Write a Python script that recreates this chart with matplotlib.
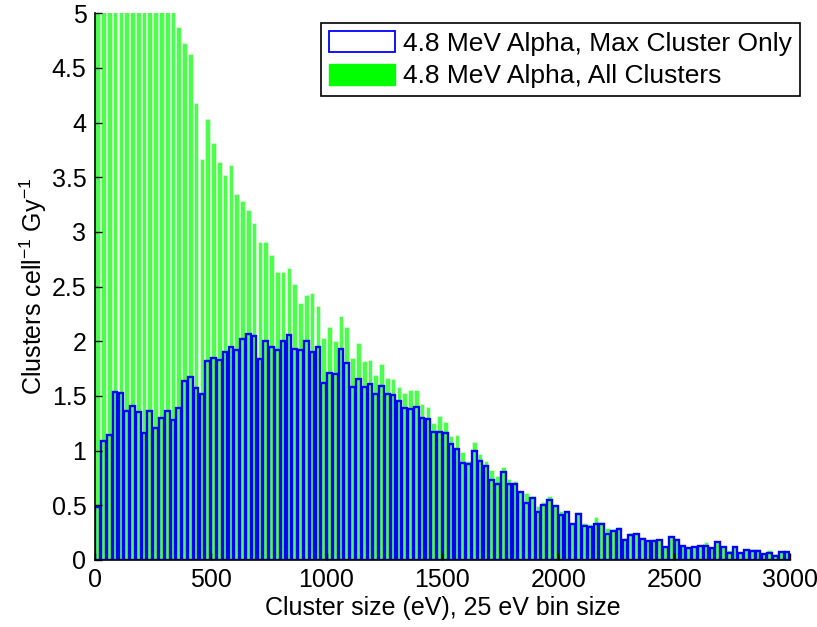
import numpy as np
import matplotlib.pyplot as plt
from matplotlib.patches import Patch
from matplotlib.ticker import FuncFormatter

plt.rcParams['font.family'] = ['Liberation Sans', 'DejaVu Sans']

# 25 eV bins from 0 to 3000 eV
bin_width = 25
n_bins = 120

# all clusters (first 14 bins run off the top of the axis)
all_clusters = [
    9.1, 8.7, 8.2, 7.6, 7.3, 6.9, 6.6, 6.3, 6.0, 5.8,
    5.6, 5.4, 5.2, 5.05, 4.87, 4.73, 4.63, 4.18, 3.67, 4.03,
    3.81, 3.64, 3.52, 3.61, 3.35, 3.28, 3.20, 3.08, 2.91, 2.91,
    2.79, 2.63, 2.63, 2.67, 2.52, 2.35, 2.42, 2.44, 2.32, 2.03,
    2.13, 2.00, 2.23, 2.13, 1.85, 1.98, 1.82, 1.83, 1.69, 1.79,
    1.66, 1.65, 1.58, 1.53, 1.55, 1.55, 1.43, 1.40, 1.25, 1.32,
    1.26, 1.13, 1.14, 0.99, 0.90, 1.08, 0.97, 0.90, 0.82, 0.77,
    0.85, 0.74, 0.72, 0.63, 0.61, 0.58, 0.49, 0.53, 0.58, 0.50,
    0.45, 0.45, 0.34, 0.44, 0.34, 0.33, 0.39, 0.35, 0.29, 0.28,
    0.30, 0.20, 0.25, 0.25, 0.21, 0.18, 0.19, 0.19, 0.13, 0.21,
    0.20, 0.14, 0.12, 0.13, 0.14, 0.16, 0.12, 0.17, 0.13, 0.09,
    0.12, 0.07, 0.10, 0.10, 0.10, 0.06, 0.09, 0.05, 0.07, 0.07,
]

# largest cluster per track only
max_cluster = [
    0.48, 1.09, 1.14, 1.54, 1.53, 1.36, 1.41, 1.35, 1.16, 1.36,
    1.21, 1.30, 1.36, 1.28, 1.39, 1.64, 1.67, 1.57, 1.52, 1.82,
    1.85, 1.83, 1.90, 1.95, 1.92, 2.02, 2.07, 2.05, 1.84, 2.00,
    1.95, 1.92, 2.00, 2.06, 1.93, 1.92, 2.00, 1.90, 1.95, 1.62,
    1.71, 1.70, 1.93, 1.80, 1.58, 1.65, 1.58, 1.61, 1.52, 1.59,
    1.52, 1.51, 1.45, 1.39, 1.38, 1.40, 1.30, 1.29, 1.17, 1.17,
    1.16, 1.06, 1.01, 0.89, 0.88, 1.00, 0.90, 0.86, 0.73, 0.69,
    0.80, 0.69, 0.69, 0.62, 0.52, 0.57, 0.44, 0.50, 0.55, 0.49,
    0.41, 0.44, 0.33, 0.42, 0.31, 0.30, 0.33, 0.33, 0.24, 0.26,
    0.28, 0.18, 0.23, 0.24, 0.19, 0.17, 0.17, 0.18, 0.12, 0.21,
    0.18, 0.13, 0.11, 0.12, 0.13, 0.13, 0.11, 0.16, 0.12, 0.06,
    0.12, 0.06, 0.09, 0.08, 0.08, 0.05, 0.06, 0.04, 0.07, 0.07,
]

labels = ['4.8 MeV Alpha, Max Cluster Only', '4.8 MeV Alpha, All Clusters']

centers = bin_width * (np.arange(n_bins) + 0.5)

fig = plt.figure(figsize=(8.17, 6.27), dpi=100)
ax = fig.add_axes([0.116, 0.107, 0.851, 0.872])

ax.bar(centers, all_clusters, width=0.8 * bin_width, color='#4cff4c',
       edgecolor='#d8ffd8', linewidth=0.5, zorder=1)
ax.bar(centers, max_cluster, width=0.8 * bin_width, facecolor='none',
       edgecolor='#0000ff', linewidth=1.7, zorder=2)

ax.set_xlim(0, 3000)
ax.set_ylim(0, 5)
ax.set_xticks(np.arange(0, 3001, 500))
ax.set_yticks(np.arange(0, 5.01, 0.5))
ax.yaxis.set_major_formatter(FuncFormatter(lambda v, p: f'{v:g}'))
ax.tick_params(direction='in', length=5, width=1, labelsize=18, pad=6)
for side in ['top', 'right']:
    ax.spines[side].set_visible(False)
for side in ['left', 'bottom']:
    ax.spines[side].set_linewidth(1.2)
ax.set_axisbelow(False)

ax.set_xlabel('Cluster size (eV), 25 eV bin size', fontsize=18, labelpad=3)
ax.set_ylabel(r'Clusters cell$^{\mathregular{-1}}$ Gy$^{\mathregular{-1}}$',
              fontsize=18, labelpad=2)

handles = [Patch(facecolor='white', edgecolor='#0000ff', linewidth=1.3),
           Patch(facecolor='#00ff00', edgecolor='#00ff00')]
leg = fig.legend(handles, labels, loc='upper right',
                 bbox_to_anchor=(0.979, 0.963), fontsize=19,
                 fancybox=False, framealpha=1, edgecolor='black',
                 handlelength=2.5, handleheight=0.85, handletextpad=0.3,
                 borderpad=0.3, labelspacing=0.3, borderaxespad=0)
leg.get_frame().set_linewidth(1.2)

fig.savefig('out.png', dpi=100)
